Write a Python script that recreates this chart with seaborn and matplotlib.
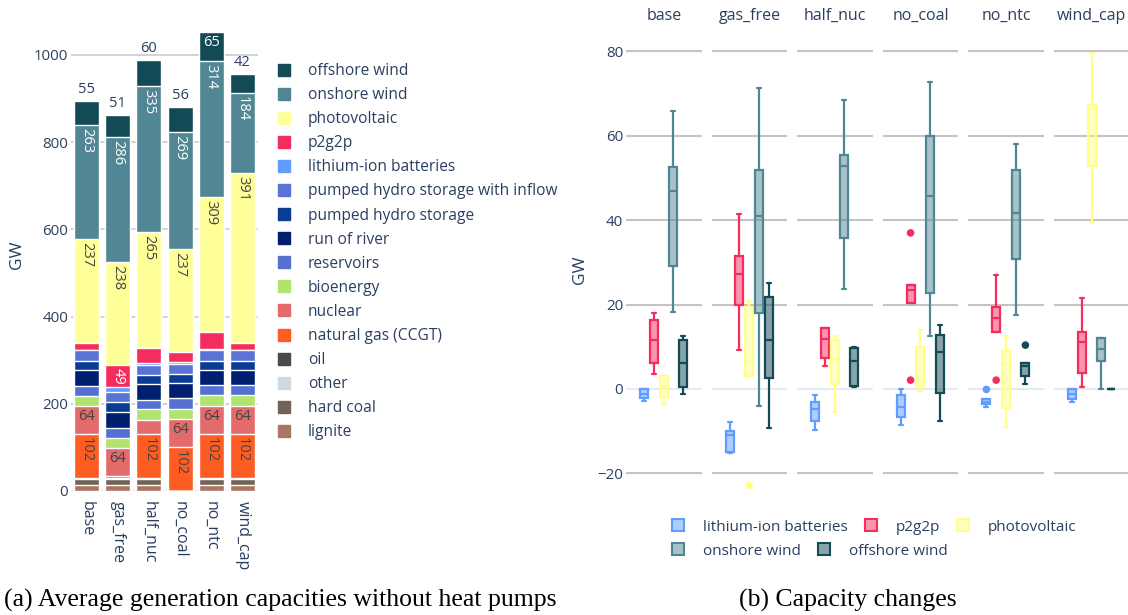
import numpy as np
import pandas as pd
import matplotlib
matplotlib.use("Agg")
import matplotlib.pyplot as plt
import seaborn as sns
from matplotlib.patches import Patch
from matplotlib.lines import Line2D
from matplotlib.colors import to_rgba

# ---------------- data: stacked capacities (GW) ----------------
scenarios = ["base", "gas_free", "half_nuc", "no_coal", "no_ntc", "wind_cap"]
lignite = [13, 13, 13, 0, 13, 13]
hard_coal = [15, 15, 15, 0, 15, 15]
other = [0.3, 0.3, 0.3, 0, 0.3, 0.3]
oil = [1, 1, 1, 0, 1, 1]
natural_gas = [102, 6, 102, 102, 102, 102]
nuclear = [64, 64, 32, 64, 64, 64]
bioenergy = [23, 23, 24, 23, 24, 24]
reservoirs = [23, 23, 22, 24, 23, 23]
run_of_river = [36, 35, 35, 34, 35, 36]
pumped_hydro = [22, 23, 22, 21, 21, 21]
pumped_hydro_inflow = [23, 23, 23, 24, 25, 23]
li_ion = [1, 13, 4, 3, 2, 0.5]
p2g2p = [17, 49, 35, 23, 39, 16]
photovoltaic = [237, 238, 265, 237, 309, 391]
onshore_wind = [263, 286, 335, 269, 314, 184]
offshore_wind = [55, 51, 60, 56, 65, 42]

stack_labels = ["lignite", "hard coal", "other", "oil", "natural gas (CCGT)", "nuclear",
                "bioenergy", "reservoirs", "run of river", "pumped hydro storage",
                "pumped hydro storage with inflow", "lithium-ion batteries", "p2g2p",
                "photovoltaic", "onshore wind", "offshore wind"]
stack_values = [lignite, hard_coal, other, oil, natural_gas, nuclear, bioenergy, reservoirs,
                run_of_river, pumped_hydro, pumped_hydro_inflow, li_ion, p2g2p,
                photovoltaic, onshore_wind, offshore_wind]
stack_colors = ["#a87662", "#736257", "#cfd9e0", "#4a4a46", "#fd5d23", "#e46b6b",
                "#b0e46c", "#5470d2", "#001f70", "#0a3c96", "#5a74d6", "#619cff",
                "#f52d5f", "#ffff99", "#518794", "#124b56"]

# ---------------- data: capacity change box plots (GW) ----------------
box_techs = ["lithium-ion batteries", "p2g2p", "photovoltaic", "onshore wind", "offshore wind"]
box_colors = ["#619cff", "#f52d5f", "#ffff8c", "#518794", "#124b56"]
# five-number summaries: [lower whisker, Q1, median, Q3, upper whisker]
li_ion_box = {"base": [-2.8, -2.2, -1.2, -0.1, 0.0], "gas_free": [-15.2, -15.0, -10.8, -9.9, -7.9],
              "half_nuc": [-9.8, -7.7, -4.8, -3.0, -1.5], "no_coal": [-8.5, -6.6, -4.2, -1.4, -0.1],
              "no_ntc": [-4.2, -3.6, -3.0, -2.4, -2.4], "wind_cap": [-3.0, -2.4, -1.2, 0.0, 0.0]}
p2g2p_box = {"base": [3.5, 6.2, 11.5, 16.4, 18.1], "gas_free": [9.2, 19.9, 27.3, 31.5, 41.4],
             "half_nuc": [5.5, 7.4, 11.8, 14.4, 14.4], "no_coal": [20.3, 20.3, 23.5, 24.7, 24.7],
             "no_ntc": [13.4, 13.4, 16.8, 19.5, 27.0], "wind_cap": [0.4, 3.7, 11.1, 13.6, 21.5]}
pv_box = {"base": [-3.6, -1.8, 0.6, 3.1, 3.1], "gas_free": [3.1, 3.1, 6.5, 19.5, 20.9],
          "half_nuc": [-5.5, 1.2, 7.0, 11.6, 12.6], "no_coal": [-0.4, 0.4, 2.4, 10.0, 14.0],
          "no_ntc": [-8.9, -4.6, 5.9, 8.9, 12.6], "wind_cap": [39.4, 52.8, 66.3, 67.4, 79.7]}
onshore_box = {"base": [18.3, 29.2, 47.0, 52.6, 65.8], "gas_free": [-4.0, 18.1, 41.1, 52.0, 71.4],
               "half_nuc": [23.6, 35.8, 52.9, 55.4, 68.6], "no_coal": [12.6, 22.7, 45.7, 59.9, 72.7],
               "no_ntc": [17.5, 30.8, 41.6, 52.0, 58.0], "wind_cap": [-0.1, 6.6, 9.5, 12.2, 12.2]}
offshore_box = {"base": [-1.3, 0.5, 6.2, 11.5, 12.6], "gas_free": [-9.3, 2.7, 11.5, 21.8, 25.1],
                "half_nuc": [0.5, 0.6, 6.6, 9.8, 10.0], "no_coal": [-7.6, -1.0, 8.7, 12.8, 15.1],
                "no_ntc": [1.3, 3.1, 5.5, 6.1, 6.1], "wind_cap": [-0.1, -0.1, 0.0, 0.1, 0.1]}
box_stats = [li_ion_box, p2g2p_box, pv_box, onshore_box, offshore_box]
# outliers
li_ion_out = {"no_ntc": [-0.1]}
p2g2p_out = {"no_coal": [2.1, 37.0], "no_ntc": [2.1]}
pv_out = {"gas_free": [-22.9]}
onshore_out = {}
offshore_out = {"no_ntc": [10.4]}
box_outliers = [li_ion_out, p2g2p_out, pv_out, onshore_out, offshore_out]

# ---------------- style ----------------
sns.set_theme(style="white")
plt.rcParams["font.family"] = ["Open Sans", "DejaVu Sans"]
TXT = "#2a3f5f"
W, H = 1128, 615
fig = plt.figure(figsize=(W / 100, H / 100), dpi=100)


def fx(px):
    return px / W


def fy(py):
    return 1 - py / H


# ================= left: stacked bars =================
y0_px, ytop_px = 491, 31
px_per_gw = 0.436
ymax = (y0_px - ytop_px) / px_per_gw
axL = fig.add_axes([fx(71), fy(y0_px), fx(258 - 71), (y0_px - ytop_px) / H])

bar_df = pd.DataFrame({"scenario": scenarios})
for lab, vals in zip(stack_labels, stack_values):
    bar_df[lab] = vals
cum = bar_df[stack_labels].cumsum(axis=1)

for lab, col in zip(reversed(stack_labels), reversed(stack_colors)):
    sns.barplot(x=bar_df["scenario"], y=cum[lab], color=col, saturation=1, width=0.8,
                edgecolor="white", linewidth=1.0, errorbar=None, ax=axL)

axL.set_ylim(0, ymax)
axL.set_xlim(-0.5, 5.5)
axL.set_yticks([0, 200, 400, 600, 800, 1000])
axL.yaxis.grid(True, color="#cfcfcf", lw=1.3)
axL.set_axisbelow(True)
axL.axhline(0, color="#e3e8f0", lw=1.5, zorder=0.6)
for s in axL.spines.values():
    s.set_visible(False)
axL.set_xlabel("")
axL.set_ylabel("")
axL.tick_params(axis="y", length=0, pad=2, labelcolor=TXT, labelsize=10.8)
axL.tick_params(axis="x", length=0, pad=7, labelcolor=TXT, labelsize=11.5)
axL.set_xticks(range(len(scenarios)))
axL.set_xticklabels(scenarios, rotation=-90, va="top", ha="center")

pad = 3 / px_per_gw
white_text = {"onshore wind", "p2g2p", "offshore wind"}
for i, sc in enumerate(scenarios):
    for lab in stack_labels:
        v = bar_df.loc[i, lab]
        top = cum.loc[i, lab]
        if lab == "offshore wind":
            if top + 22 / px_per_gw > ymax:
                axL.text(i, top - pad, f"{v:.0f}", ha="center", va="top", color="white",
                         fontsize=10.5)
            else:
                axL.text(i, top + 4 / px_per_gw, f"{v:.0f}", ha="center", va="bottom",
                         color=TXT, fontsize=10.5)
            continue
        if v < 45:
            continue
        col = "white" if lab in white_text else "#444444"
        rot = 0 if lab == "nuclear" else -90
        axL.text(i, top - pad, f"{v:.0f}", ha="center", va="top", rotation=rot,
                 color=col, fontsize=10.5)

fig.text(fx(17), fy(255), "GW", rotation=90, ha="center", va="center", color=TXT,
         fontsize=12.5)

leg_handles = [Line2D([], [], marker="s", ls="none", markersize=9, markerfacecolor=c,
                      markeredgecolor=c) for c in reversed(stack_colors)]
fig.legend(leg_handles, list(reversed(stack_labels)), loc="upper left",
           bbox_to_anchor=(fx(275), fy(63)), frameon=False, fontsize=11.2,
           labelcolor=TXT, labelspacing=0.52, handletextpad=0.92, borderaxespad=0,
           borderpad=0, handlelength=1.2)

# ================= right: box plots =================
r_top_px, r_bot_px = 30.3, 494.5
r_ylim = (-25, 85)
axes_r = []
for k, sc in enumerate(scenarios):
    left_px = 626 + k * 85.6
    ax = fig.add_axes([fx(left_px), fy(r_bot_px), fx(75.5), (r_bot_px - r_top_px) / H])
    axes_r.append(ax)
    for j, (tech, col) in enumerate(zip(box_techs, box_colors)):
        vals = box_stats[j][sc]
        sns.boxplot(x=[j] * len(vals), y=vals, native_scale=True, orient="x", width=0.82,
                    whis=(0, 100), color=col, linecolor=col, linewidth=1.6, saturation=1,
                    showfliers=False, ax=ax)
        outs = box_outliers[j].get(sc, [])
        if outs:
            sns.scatterplot(x=[j] * len(outs), y=outs, color=col, s=30, edgecolor="none",
                            legend=False, ax=ax, zorder=5)
    for p in ax.patches:
        fc = p.get_facecolor()
        p.set_facecolor((fc[0], fc[1], fc[2], 0.5))
    ax.set_xlim(-1.85, 5.9)
    ax.set_ylim(*r_ylim)
    ax.set_yticks([-20, 0, 20, 40, 60, 80])
    ax.yaxis.grid(True, color="#c4c4c4", lw=1.5)
    ax.set_axisbelow(True)
    ax.get_ygridlines()[1].set_color("#e6eaf2")
    ax.set_xticks([])
    ax.set_xlabel("")
    ax.set_ylabel("")
    for s in ax.spines.values():
        s.set_visible(False)
    ax.tick_params(axis="y", length=0, pad=2, labelcolor=TXT, labelsize=10.8)
    if k > 0:
        ax.set_yticklabels([])
    else:
        ax.set_yticklabels(["\u221220", "0", "20", "40", "60", "80"])
    fig.text(fx(left_px + 37.75), fy(16), sc, ha="center", va="center", color=TXT,
             fontsize=11.5)

fig.text(fx(580), fy(270), "GW", rotation=90, ha="center", va="center", color=TXT,
         fontsize=12.5)

box_handles = [Patch(facecolor=to_rgba(c, 0.5), edgecolor=c, linewidth=1.5) for c in box_colors]
leg_kw = dict(frameon=False, fontsize=11, labelcolor=TXT, borderaxespad=0, borderpad=0,
              handlelength=0.8, handleheight=0.8, handletextpad=1.24, columnspacing=1.1)
fig.legend(box_handles[:3], box_techs[:3], loc="center left", ncol=3,
           bbox_to_anchor=(fx(672), fy(527)), **leg_kw)
fig.legend(box_handles[3:], box_techs[3:], loc="center left", ncol=2,
           bbox_to_anchor=(fx(672), fy(551)), **leg_kw)

# captions
fig.text(fx(280), fy(600), "(a) Average generation capacities without heat pumps",
         ha="center", va="center", family=["Liberation Serif", "DejaVu Serif"], fontsize=18.5,
         color="black")
fig.text(fx(848), fy(600), "(b) Capacity changes", ha="center", va="center",
         family=["Liberation Serif", "DejaVu Serif"], fontsize=18.5, color="black")

fig.savefig("out.png", dpi=100)
